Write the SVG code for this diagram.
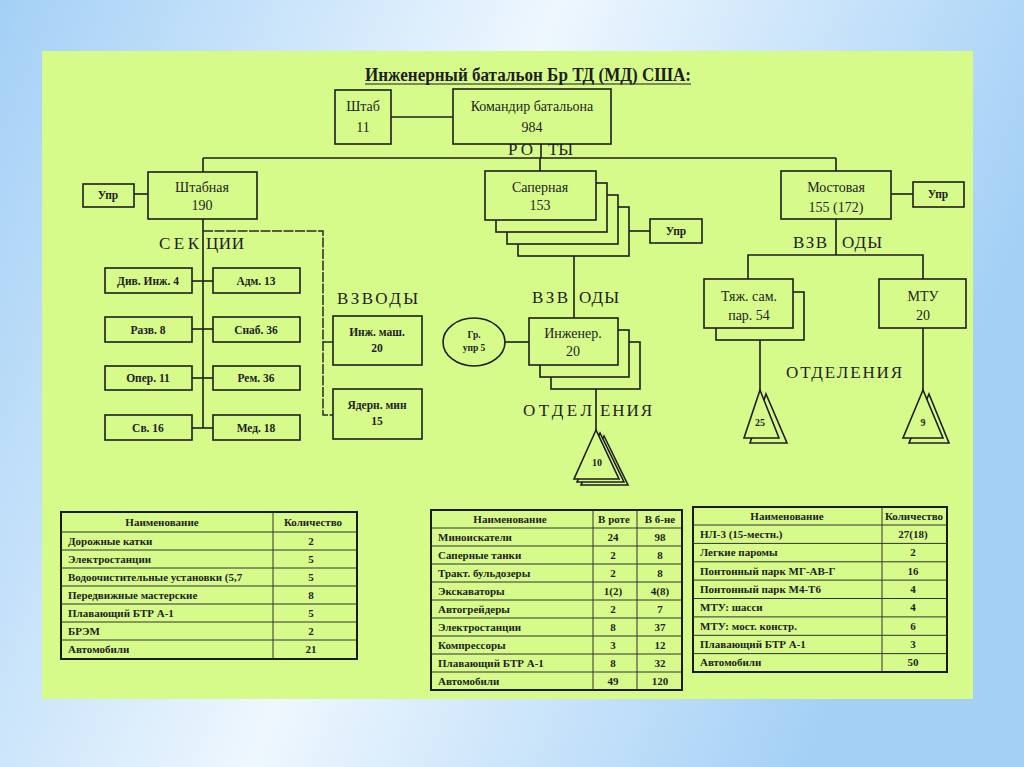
<svg xmlns="http://www.w3.org/2000/svg" width="1024" height="767" viewBox="0 0 1024 767">
<defs>
<linearGradient id="bg" x1="0" y1="0" x2="1" y2="0.3">
<stop offset="0" stop-color="#a4d0f6"/>
<stop offset="0.5" stop-color="#eef7fe"/>
<stop offset="1" stop-color="#a4d0f6"/>
</linearGradient>
<style>
.box{fill:#d7fb8b;stroke:#1e1e1e;stroke-width:1.6}
.ln{fill:none;stroke:#1e1e1e;stroke-width:1.6}
.dl{fill:none;stroke:#2a2a2a;stroke-width:1.5;stroke-dasharray:10 1.5}
.t{font-family:"Liberation Serif","DejaVu Serif",serif;fill:#1e1e1e;text-anchor:middle}
.n{font-size:14px}
.s{font-size:11.5px;font-weight:bold}
.lb{font-family:"Liberation Serif","DejaVu Serif",serif;fill:#1e1e1e;font-size:17px}
.tb{font-family:"Liberation Serif","DejaVu Serif",serif;fill:#1e1e1e;font-size:11px;font-weight:bold}
.tc{text-anchor:middle}
.tl{fill:none;stroke:#333;stroke-width:1}
</style>
</defs>
<rect x="0" y="0" width="1024" height="767" fill="url(#bg)"/>
<rect x="42" y="51" width="931" height="648" fill="#d7fb8b"/>

<g id="title">
<text x="365" y="81" font-family="Liberation Serif, DejaVu Serif, serif" font-size="18" font-weight="bold" fill="#1e1e1e" textLength="326" lengthAdjust="spacingAndGlyphs">Инженерный батальон Бр ТД (МД) США:</text>
<line x1="365" y1="84" x2="691" y2="84" stroke="#1e1e1e" stroke-width="1.2"/>
</g>

<g id="connectors">
<line class="ln" x1="391" y1="117" x2="453" y2="117"/>
<line class="ln" x1="541" y1="144" x2="541" y2="158"/>
<line class="ln" x1="203" y1="158" x2="836" y2="158"/>
<line class="ln" x1="203" y1="158" x2="203" y2="172"/>
<line class="ln" x1="540" y1="158" x2="540" y2="171"/>
<line class="ln" x1="836" y1="158" x2="836" y2="171"/>
<line class="ln" x1="134" y1="194" x2="148" y2="194"/>
<line class="ln" x1="203" y1="219" x2="203" y2="428"/>
<line class="ln" x1="192" y1="281" x2="213" y2="281"/>
<line class="ln" x1="192" y1="329" x2="213" y2="329"/>
<line class="ln" x1="192" y1="378" x2="213" y2="378"/>
<line class="ln" x1="192" y1="428" x2="213" y2="428"/>
<polyline class="dl" points="203,231 323,231 323,415 333,415"/>
<line class="dl" x1="323" y1="342" x2="333" y2="342"/>
<line class="ln" x1="629" y1="231" x2="650" y2="231"/>
<line class="ln" x1="574" y1="256" x2="574" y2="318"/>
<line class="ln" x1="505" y1="342" x2="529" y2="342"/>
<line class="ln" x1="596" y1="389" x2="596" y2="430"/>
<line class="ln" x1="891" y1="194" x2="913" y2="194"/>
<line class="ln" x1="836" y1="219" x2="836" y2="255"/>
<polyline class="ln" points="748,279 748,255 923,255 923,279"/>
<line class="ln" x1="760" y1="340" x2="760" y2="390"/>
<line class="ln" x1="923" y1="328" x2="923" y2="390"/>
</g>

<g id="labels">
<text class="lb" x="508" y="155" textLength="25">РО</text>
<text class="lb" x="548" y="155" textLength="25">ТЫ</text>
<text class="lb" x="159" y="249" textLength="40">СЕК</text>
<text class="lb" x="206" y="249" textLength="38">ЦИИ</text>
<text class="lb" x="337" y="304" textLength="81">ВЗВОДЫ</text>
<text class="lb" x="532" y="303" textLength="36">ВЗВ</text>
<text class="lb" x="579" y="303" textLength="40">ОДЫ</text>
<text class="lb" x="523" y="416" textLength="69">ОТДЕЛ</text>
<text class="lb" x="600" y="416" textLength="52">ЕНИЯ</text>
<text class="lb" x="793" y="248" textLength="34">ВЗВ</text>
<text class="lb" x="842" y="248" textLength="40">ОДЫ</text>
<text class="lb" x="786" y="378" textLength="116">ОТДЕЛЕНИЯ</text>
</g>

<g id="shtab">
<rect class="box" x="335" y="90" width="56" height="54"/>
<text class="t n" x="363" y="111">Штаб</text>
<text class="t n" x="363" y="132">11</text>
</g>
<g id="komandir">
<rect class="box" x="453" y="89" width="158" height="55"/>
<text class="t n" x="532" y="111">Командир батальона</text>
<text class="t n" x="532" y="132">984</text>
</g>

<g id="shtabnaya">
<rect class="box" x="148" y="172" width="109" height="47"/>
<text class="t n" x="202" y="192">Штабная</text>
<text class="t n" x="202" y="210">190</text>
</g>
<g id="upr1">
<rect class="box" x="83" y="184" width="51" height="23"/>
<text class="t s" x="108" y="199">Упр</text>
</g>

<g id="sec-div"><rect class="box" x="105" y="268" width="87" height="25"/><text class="t s" x="148" y="285">Див. Инж. 4</text></g>
<g id="sec-adm"><rect class="box" x="213" y="268" width="87" height="25"/><text class="t s" x="256" y="285">Адм. 13</text></g>
<g id="sec-razv"><rect class="box" x="105" y="317" width="87" height="25"/><text class="t s" x="148" y="334">Разв. 8</text></g>
<g id="sec-snab"><rect class="box" x="213" y="317" width="87" height="25"/><text class="t s" x="256" y="334">Снаб. 36</text></g>
<g id="sec-oper"><rect class="box" x="105" y="366" width="87" height="24"/><text class="t s" x="148" y="382">Опер. 11</text></g>
<g id="sec-rem"><rect class="box" x="213" y="366" width="87" height="24"/><text class="t s" x="256" y="382">Рем. 36</text></g>
<g id="sec-sv"><rect class="box" x="105" y="415" width="87" height="25"/><text class="t s" x="148" y="432">Св. 16</text></g>
<g id="sec-med"><rect class="box" x="213" y="415" width="87" height="25"/><text class="t s" x="256" y="432">Мед. 18</text></g>

<g id="inzh-mash">
<rect class="box" x="333" y="316" width="89" height="49"/>
<text class="t s" x="377" y="336">Инж. маш.</text>
<text class="t s" x="377" y="352">20</text>
</g>
<g id="yadern">
<rect class="box" x="333" y="389" width="89" height="50"/>
<text class="t s" x="377" y="409">Ядерн. мин</text>
<text class="t s" x="377" y="425">15</text>
</g>

<g id="sapernaya">
<rect class="box" x="518" y="207" width="111" height="49"/>
<rect class="box" x="507" y="195" width="111" height="49"/>
<rect class="box" x="496" y="183" width="111" height="49"/>
<rect class="box" x="485" y="171" width="111" height="49"/>
<text class="t n" x="540" y="192">Саперная</text>
<text class="t n" x="540" y="210">153</text>
</g>
<g id="upr2">
<rect class="box" x="650" y="219" width="52" height="24"/>
<text class="t s" x="676" y="235">Упр</text>
</g>

<g id="gr-upr">
<ellipse class="box" cx="474" cy="342" rx="31" ry="24"/>
<text class="t" x="474" y="338" font-size="9.5" font-weight="bold">Гр.</text>
<text class="t" x="474" y="351" font-size="9.5" font-weight="bold">упр 5</text>
</g>
<g id="inzhener">
<rect class="box" x="551" y="342" width="89" height="47"/>
<rect class="box" x="540" y="330" width="89" height="47"/>
<rect class="box" x="529" y="318" width="89" height="47"/>
<text class="t n" x="573" y="338">Инженер.</text>
<text class="t n" x="573" y="356">20</text>
</g>
<g id="otd10">
<polygon class="box" points="604,436 581,485 628,485"/>
<polygon class="box" points="600,433 577,482 624,482"/>
<polygon class="box" points="596,430 574,479 619,479"/>
<text class="t" x="597" y="466" font-size="10" font-weight="bold">10</text>
</g>

<g id="mostovaya">
<rect class="box" x="781" y="171" width="110" height="48"/>
<text class="t n" x="836" y="192">Мостовая</text>
<text class="t n" x="836" y="212">155 (172)</text>
</g>
<g id="upr3">
<rect class="box" x="913" y="182" width="51" height="25"/>
<text class="t s" x="938" y="198">Упр</text>
</g>
<g id="tyazh">
<rect class="box" x="716" y="292" width="88" height="48"/>
<rect class="box" x="704" y="279" width="89" height="49"/>
<text class="t n" x="749" y="301">Тяж. сам.</text>
<text class="t n" x="749" y="320">пар. 54</text>
</g>
<g id="mtu">
<rect class="box" x="879" y="279" width="87" height="49"/>
<text class="t n" x="923" y="301">МТУ</text>
<text class="t n" x="923" y="320">20</text>
</g>
<g id="otd25">
<polygon class="box" points="766,394 750,443 787,443"/>
<polygon class="box" points="760,390 744,438 779,438"/>
<text class="t" x="760" y="426" font-size="10" font-weight="bold">25</text>
</g>
<g id="otd9">
<polygon class="box" points="929,394 909,443 949,443"/>
<polygon class="box" points="923,390 903,438 943,438"/>
<text class="t" x="923" y="426" font-size="10" font-weight="bold">9</text>
</g>

<g id="table1">
<rect x="61" y="512" width="296" height="147" fill="none" stroke="#1a1a1a" stroke-width="2"/>
<line class="tl" x1="273" y1="512" x2="273" y2="659"/>
<line class="tl" x1="61" y1="532" x2="357" y2="532" stroke-width="1.5"/>
<line class="tl" x1="61" y1="550" x2="357" y2="550"/>
<line class="tl" x1="61" y1="568" x2="357" y2="568"/>
<line class="tl" x1="61" y1="586" x2="357" y2="586"/>
<line class="tl" x1="61" y1="604" x2="357" y2="604"/>
<line class="tl" x1="61" y1="622" x2="357" y2="622"/>
<line class="tl" x1="61" y1="640" x2="357" y2="640"/>
<text class="tb tc" x="162" y="526">Наименование</text>
<text class="tb tc" x="313" y="526">Количество</text>
<text class="tb" x="68" y="545">Дорожные катки</text><text class="tb tc" x="311" y="545">2</text>
<text class="tb" x="68" y="563">Электростанции</text><text class="tb tc" x="311" y="563">5</text>
<text class="tb" x="68" y="581">Водоочистительные установки (5,7</text><text class="tb tc" x="311" y="581">5</text>
<text class="tb" x="68" y="599">Передвижные мастерские</text><text class="tb tc" x="311" y="599">8</text>
<text class="tb" x="68" y="617">Плавающий БТР А-1</text><text class="tb tc" x="311" y="617">5</text>
<text class="tb" x="68" y="635">БРЭМ</text><text class="tb tc" x="311" y="635">2</text>
<text class="tb" x="68" y="653">Автомобили</text><text class="tb tc" x="311" y="653">21</text>
</g>

<g id="table2">
<rect x="431" y="510" width="251" height="180" fill="none" stroke="#1a1a1a" stroke-width="2"/>
<line class="tl" x1="593" y1="510" x2="593" y2="690"/>
<line class="tl" x1="637" y1="510" x2="637" y2="690"/>
<line class="tl" x1="431" y1="528" x2="682" y2="528" stroke-width="1.5"/>
<line class="tl" x1="431" y1="546" x2="682" y2="546"/>
<line class="tl" x1="431" y1="564" x2="682" y2="564"/>
<line class="tl" x1="431" y1="582" x2="682" y2="582"/>
<line class="tl" x1="431" y1="600" x2="682" y2="600"/>
<line class="tl" x1="431" y1="618" x2="682" y2="618"/>
<line class="tl" x1="431" y1="636" x2="682" y2="636"/>
<line class="tl" x1="431" y1="654" x2="682" y2="654"/>
<line class="tl" x1="431" y1="672" x2="682" y2="672"/>
<text class="tb tc" x="510" y="523">Наименование</text>
<text class="tb tc" x="614" y="523">В роте</text>
<text class="tb tc" x="660" y="523">В б-не</text>
<text class="tb" x="438" y="541">Миноискатели</text><text class="tb tc" x="613" y="541">24</text><text class="tb tc" x="660" y="541">98</text>
<text class="tb" x="438" y="559">Саперные танки</text><text class="tb tc" x="613" y="559">2</text><text class="tb tc" x="660" y="559">8</text>
<text class="tb" x="438" y="577">Тракт. бульдозеры</text><text class="tb tc" x="613" y="577">2</text><text class="tb tc" x="660" y="577">8</text>
<text class="tb" x="438" y="595">Экскаваторы</text><text class="tb tc" x="613" y="595">1(2)</text><text class="tb tc" x="660" y="595">4(8)</text>
<text class="tb" x="438" y="613">Автогрейдеры</text><text class="tb tc" x="613" y="613">2</text><text class="tb tc" x="660" y="613">7</text>
<text class="tb" x="438" y="631">Электростанции</text><text class="tb tc" x="613" y="631">8</text><text class="tb tc" x="660" y="631">37</text>
<text class="tb" x="438" y="649">Компрессоры</text><text class="tb tc" x="613" y="649">3</text><text class="tb tc" x="660" y="649">12</text>
<text class="tb" x="438" y="667">Плавающий БТР А-1</text><text class="tb tc" x="613" y="667">8</text><text class="tb tc" x="660" y="667">32</text>
<text class="tb" x="438" y="685">Автомобили</text><text class="tb tc" x="613" y="685">49</text><text class="tb tc" x="660" y="685">120</text>
</g>

<g id="table3">
<rect x="693" y="507" width="254" height="165" fill="none" stroke="#1a1a1a" stroke-width="2"/>
<line class="tl" x1="882" y1="507" x2="882" y2="672"/>
<line class="tl" x1="693" y1="525" x2="947" y2="525" stroke-width="1.5"/>
<line class="tl" x1="693" y1="543.4" x2="947" y2="543.4"/>
<line class="tl" x1="693" y1="561.8" x2="947" y2="561.8"/>
<line class="tl" x1="693" y1="580.1" x2="947" y2="580.1"/>
<line class="tl" x1="693" y1="598.5" x2="947" y2="598.5"/>
<line class="tl" x1="693" y1="616.9" x2="947" y2="616.9"/>
<line class="tl" x1="693" y1="635.3" x2="947" y2="635.3"/>
<line class="tl" x1="693" y1="653.6" x2="947" y2="653.6"/>
<text class="tb tc" x="787" y="520">Наименование</text>
<text class="tb tc" x="914" y="520">Количество</text>
<text class="tb" x="700" y="538">НЛ-3 (15-местн.)</text><text class="tb tc" x="913" y="538">27(18)</text>
<text class="tb" x="700" y="556">Легкие паромы</text><text class="tb tc" x="913" y="556">2</text>
<text class="tb" x="700" y="575">Понтонный парк МГ-АВ-Г</text><text class="tb tc" x="913" y="575">16</text>
<text class="tb" x="700" y="593">Понтонный парк М4-Т6</text><text class="tb tc" x="913" y="593">4</text>
<text class="tb" x="700" y="611">МТУ: шасси</text><text class="tb tc" x="913" y="611">4</text>
<text class="tb" x="700" y="630">МТУ: мост. констр.</text><text class="tb tc" x="913" y="630">6</text>
<text class="tb" x="700" y="648">Плавающий БТР А-1</text><text class="tb tc" x="913" y="648">3</text>
<text class="tb" x="700" y="666">Автомобили</text><text class="tb tc" x="913" y="666">50</text>
</g>
</svg>
